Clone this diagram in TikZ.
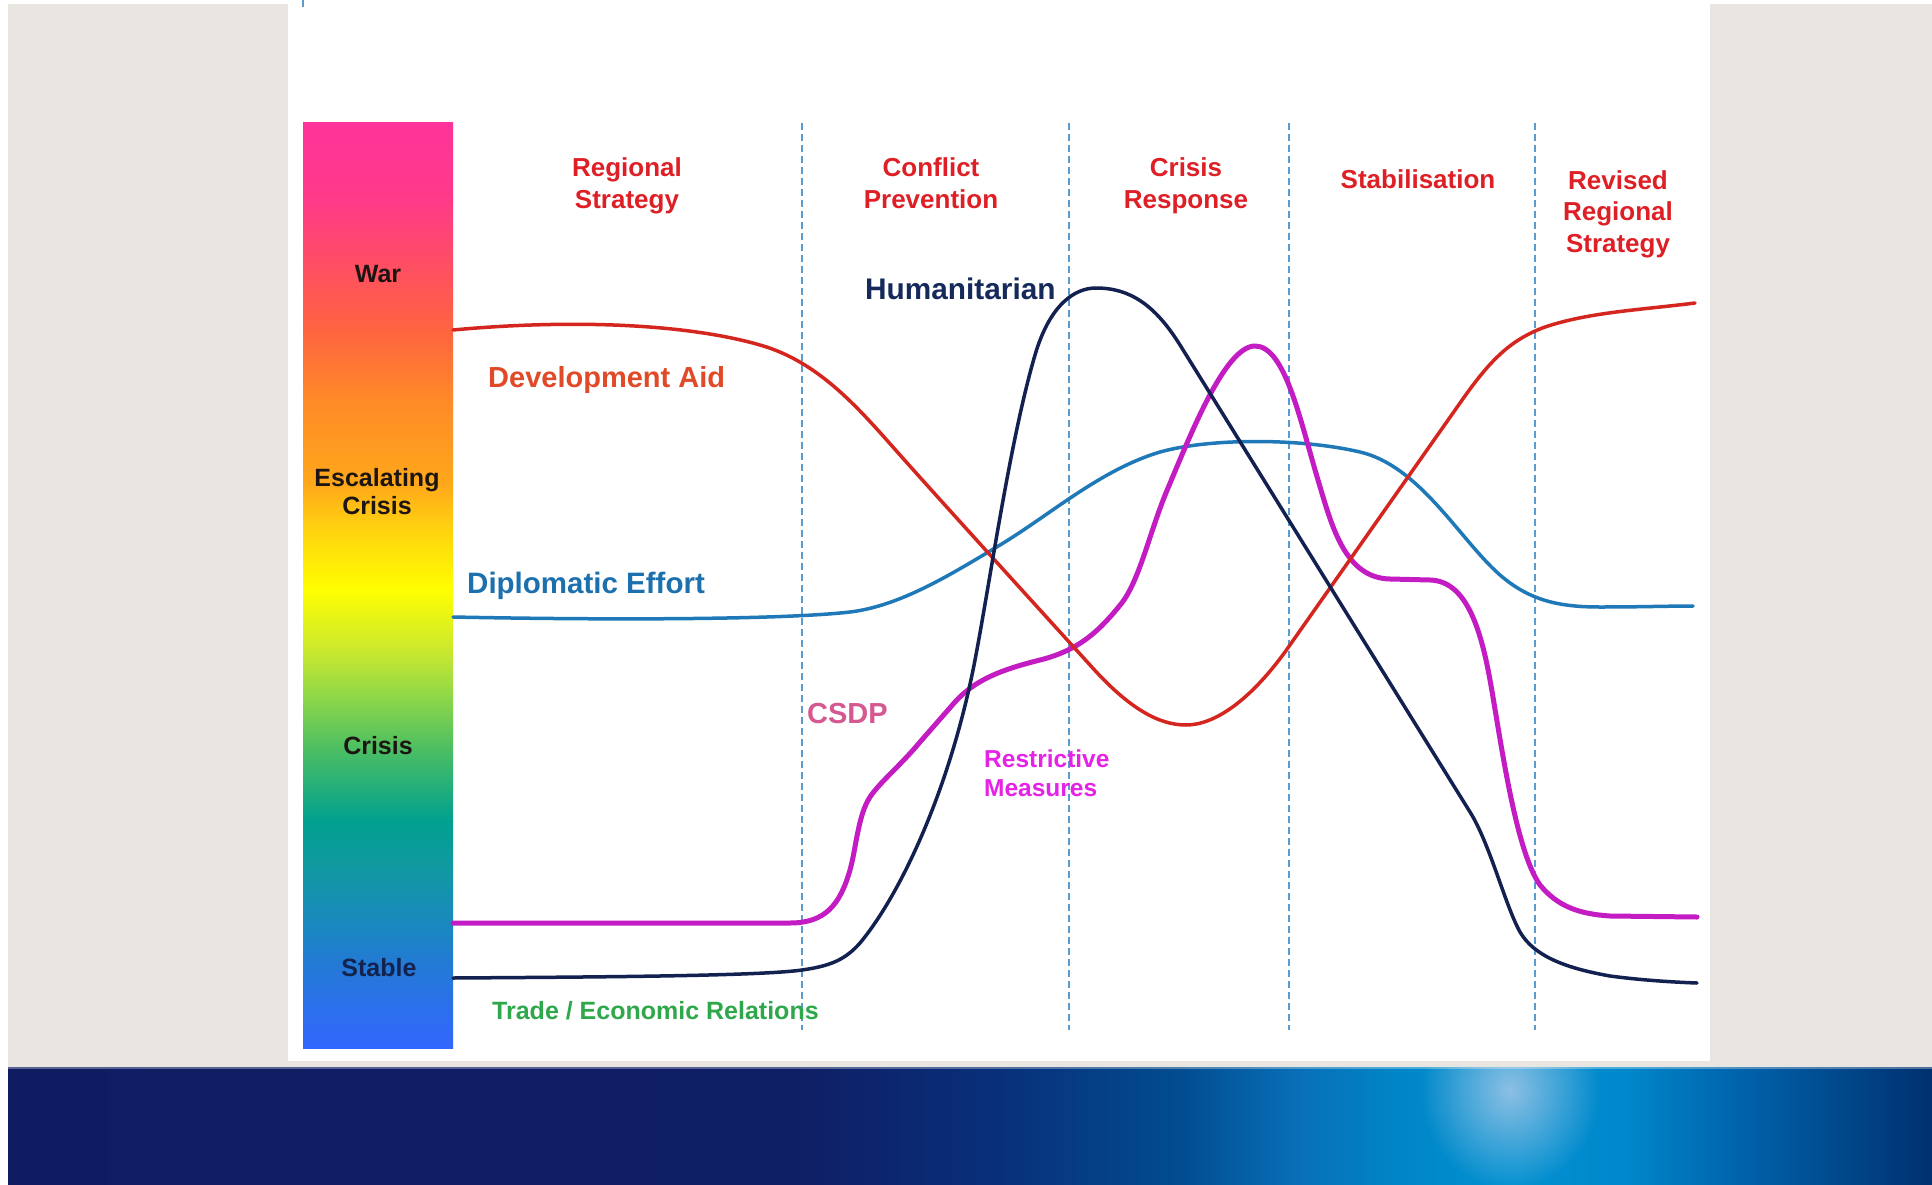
\documentclass[tikz,border=0pt]{standalone}
\usepackage{fontspec}
\setmainfont{Liberation Sans}
\usetikzlibrary{fadings}
\definecolor{pagegray}{HTML}{E9E6E1}
\definecolor{headred}{HTML}{DE1F26}
\definecolor{devred}{HTML}{D4261E}
\definecolor{devlabel}{HTML}{E04A28}
\definecolor{diplo}{HTML}{1F78B8}
\definecolor{diplolabel}{HTML}{1C70AE}
\definecolor{huma}{HTML}{12214F}
\definecolor{humalabel}{HTML}{15295A}
\definecolor{csdpline}{HTML}{C21CC2}
\definecolor{csdplabel}{HTML}{D65890}
\definecolor{restrict}{HTML}{E622E6}
\definecolor{tradegreen}{HTML}{2EA84A}
\definecolor{phase}{HTML}{5A9BD0}
\definecolor{barlabel}{HTML}{1C1512}
\definecolor{stablelabel}{HTML}{13234D}
\definecolor{glowc}{HTML}{8CC0E4}
% colour bar stops
\definecolor{barA}{HTML}{FF3399}
\definecolor{barB}{HTML}{FF3A88}
\definecolor{barC}{HTML}{FF5060}
\definecolor{barD}{HTML}{FF6440}
\definecolor{barE}{HTML}{FF8A28}
\definecolor{barF}{HTML}{FFA81A}
\definecolor{barG}{HTML}{FFD010}
\definecolor{barH}{HTML}{FFFF00}
\definecolor{barI}{HTML}{C8E830}
\definecolor{barJ}{HTML}{90D848}
\definecolor{barK}{HTML}{50C060}
\definecolor{barL}{HTML}{00A090}
\definecolor{barM}{HTML}{109AA0}
\definecolor{barN}{HTML}{1A88C0}
\definecolor{barO}{HTML}{2478D8}
\definecolor{barP}{HTML}{3366FF}
% footer band stops
\definecolor{bandA}{HTML}{101C62}
\definecolor{bandB}{HTML}{0F1F66}
\definecolor{bandC}{HTML}{08307A}
\definecolor{bandD}{HTML}{024C90}
\definecolor{bandE}{HTML}{0870B8}
\definecolor{bandF}{HTML}{0086C8}
\definecolor{bandG}{HTML}{0090D0}
\definecolor{bandH}{HTML}{0088CC}
\definecolor{bandI}{HTML}{0060A8}
\definecolor{bandJ}{HTML}{00306F}
\tikzfading[name=glowfade, inner color=transparent!0, outer color=transparent!100]
\begin{document}
\begin{tikzpicture}[x=1pt,y=-1pt,
  phaseline/.style={phase, line width=1.3pt, dash pattern=on 7pt off 4pt},
  curve/.style={line width=3.5pt, line cap=round, line join=round},
  heading/.style={headred, font=\fontsize{26}{32}\selectfont\bfseries, align=center, anchor=base, inner sep=0pt},
  levellabel/.style={barlabel, font=\fontsize{25}{28}\selectfont\bfseries, align=center, anchor=base, inner sep=0pt},
  curvelabel/.style={font=\fontsize{29}{34}\selectfont\bfseries, anchor=base west, inner sep=0pt, align=left},
]
\useasboundingbox (0,0) rectangle (1932,1185);
\fill[white] (0,0) rectangle (1932,1185);
\fill[pagegray] (8,4) rectangle (1932,1067);
\fill[white] (288,4) rectangle (1710,1061);

% footer band
\foreach \xa/\ca/\xb/\cb in {8/bandA/800/bandB, 800/bandB/1000/bandC, 1000/bandC/1180/bandD,
  1180/bandD/1300/bandE, 1300/bandE/1400/bandF, 1400/bandF/1510/bandG, 1510/bandG/1620/bandH,
  1620/bandH/1750/bandI, 1750/bandI/1932/bandJ}{
  \shade[left color=\ca, right color=\cb] (\xa,1067) rectangle (\xb+0.6,1185);
}
\begin{scope}
  \clip (8,1067) rectangle (1932,1185);
  \fill[glowc, path fading=glowfade] (1510,1090) ellipse [x radius=90pt, y radius=100pt];
\end{scope}
\fill[white, opacity=0.3] (8,1067) rectangle (1932,1069);

% colour bar
\foreach \ya/\ca/\yb/\cb in {123/barA/200/barB, 200/barB/271/barC, 271/barC/330/barD,
  330/barD/400/barE, 400/barE/484/barF, 484/barF/526/barG, 526/barG/589/barH,
  589/barH/652/barI, 652/barI/695/barJ, 695/barJ/745/barK, 745/barK/821/barL,
  821/barL/863/barM, 863/barM/926/barN, 926/barN/968/barO, 968/barO/1048/barP}{
  \shade[top color=\ca, bottom color=\cb] (303,\ya) rectangle (453,\yb+0.6);
}

% phase separators
\draw[phaseline] (303,0) -- (303,7);
\foreach \px in {802,1069,1289,1535}{
  \draw[phaseline] (\px,123) -- (\px,1030);
}

% Diplomatic Effort
\draw[curve, diplo] (453,617) .. controls (600,620) and (780,620) .. (850,612)
  .. controls (900,606) and (950,575) .. (1000,545)
  .. controls (1050,515) and (1100,470) .. (1160,452)
  .. controls (1210,438) and (1300,438) .. (1360,452)
  .. controls (1420,466) and (1460,540) .. (1500,575)
  .. controls (1530,601) and (1560,607) .. (1600,607)
  .. controls (1640,607) and (1670,606) .. (1693,606);
% CSDP / Restrictive Measures
\draw[curve, csdpline, line width=5pt] (453,923) -- (790,923)
  .. controls (825,923) and (840,905) .. (850,870)
  .. controls (856,849) and (858,815) .. (870,797)
  .. controls (880,782) and (900,766) .. (920,742)
  -- (955,702)
  .. controls (975,680) and (1000,670) .. (1040,660)
  .. controls (1080,650) and (1100,630) .. (1121,604)
  .. controls (1140,580) and (1150,530) .. (1168,488)
  .. controls (1190,436) and (1225,346) .. (1255,346)
  .. controls (1285,346) and (1300,420) .. (1318,480)
  .. controls (1332,527) and (1345,578) .. (1390,579)
  -- (1430,580)
  .. controls (1465,581) and (1480,625) .. (1490,680)
  .. controls (1500,735) and (1515,850) .. (1540,885)
  .. controls (1558,907) and (1580,914) .. (1610,916)
  -- (1697,917);
% Development Aid
\draw[curve, devred] (453,330) .. controls (560,320) and (680,322) .. (760,345)
  .. controls (820,362) and (860,410) .. (900,455)
  .. controls (940,500) and (1040,610) .. (1090,665)
  .. controls (1130,710) and (1160,725) .. (1186,725)
  .. controls (1215,725) and (1250,700) .. (1285,652)
  -- (1460,403)
  .. controls (1490,360) and (1510,340) .. (1545,327)
  .. controls (1590,312) and (1640,310) .. (1695,303);
% Humanitarian
\draw[curve, huma] (453,978) .. controls (600,977) and (760,976) .. (802,970)
  .. controls (830,966) and (845,960) .. (860,943)
  .. controls (900,895) and (950,790) .. (975,660)
  .. controls (990,582) and (1010,440) .. (1035,355)
  .. controls (1050,304) and (1075,288) .. (1096,288)
  .. controls (1130,288) and (1155,305) .. (1180,345)
  -- (1470,812)
  .. controls (1490,844) and (1505,905) .. (1520,932)
  .. controls (1534,956) and (1565,968) .. (1610,976)
  .. controls (1640,980) and (1670,982) .. (1697,983);

% level labels on the bar
\node[levellabel] (war) at (378,282) {War};
\node[levellabel] (escalating) at (377,514) {Escalating\\Crisis};
\node[levellabel] (crisis) at (378,754) {Crisis};
\node[levellabel, stablelabel] (stable) at (379,976) {Stable};

% phase headings (base = last line)
\node[heading] (regional) at (627,208) {Regional\\Strategy};
\node[heading] (prevention) at (931,208) {Conflict\\Prevention};
\node[heading] (response) at (1186,208) {Crisis\\Response};
\node[heading] (stabilisation) at (1418,189) {Stabilisation};
\node[heading, font=\fontsize{26}{31.5}\selectfont\bfseries] (revised) at (1618,252) {Revised\\Regional\\Strategy};

% curve labels
\node[curvelabel, devlabel] (devaid) at (488,387) {Development Aid};
\node[curvelabel, diplolabel, font=\fontsize{29.5}{34}\selectfont\bfseries] (diplomatic) at (467,593) {Diplomatic Effort};
\node[curvelabel, humalabel, font=\fontsize{29.8}{34}\selectfont\bfseries] (humanitarian) at (865,299) {Humanitarian};
\node[curvelabel, csdplabel] (csdp) at (807,723) {CSDP};
\node[curvelabel, restrict, font=\fontsize{24.5}{29}\selectfont\bfseries] (restrictive) at (984,796) {Restrictive\\Measures};
\node[curvelabel, tradegreen, font=\fontsize{25}{30}\selectfont\bfseries] (trade) at (492,1019) {Trade / Economic Relations};
\end{tikzpicture}
\end{document}
